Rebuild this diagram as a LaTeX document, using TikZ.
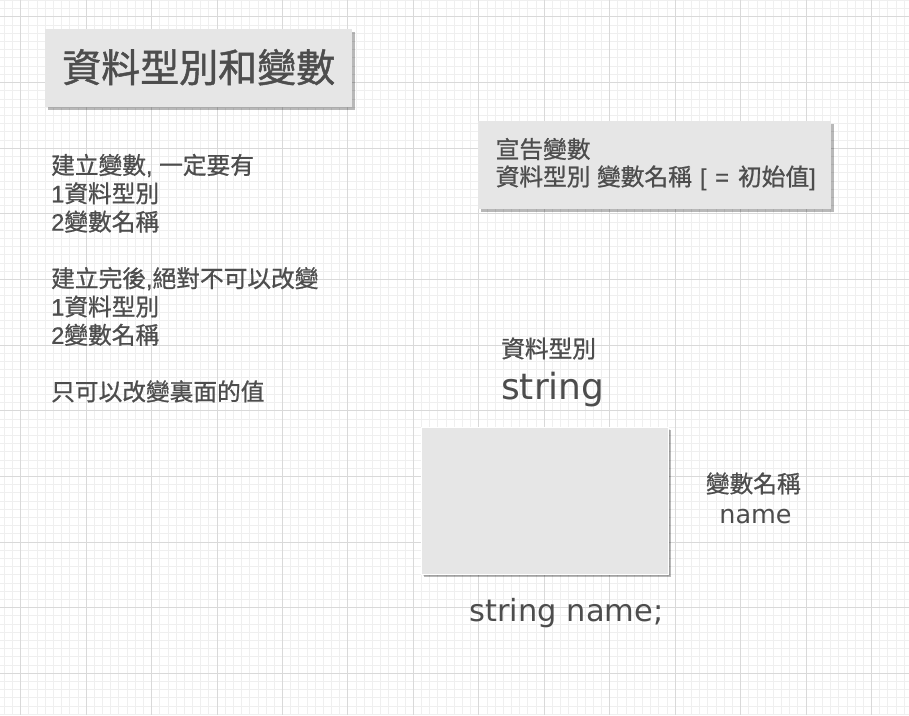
\documentclass[tikz,border=0pt]{standalone}
\usepackage{fontspec}
\usetikzlibrary{shadows}
\setmainfont{DejaVu Sans}
\newfontfamily\cjk[FakeBold=0.9]{Noto Sans CJK TC}
\newfontfamily\cjkt[FakeBold=1.2]{Noto Sans CJK TC}
\newfontfamily\lat[FakeBold=0.6]{Liberation Sans}
\definecolor{txtc}{HTML}{4D4D4D}
\definecolor{boxc}{HTML}{E6E6E6}
\definecolor{minorc}{HTML}{EFEFEF}
\definecolor{majorc}{HTML}{D9D9D9}
\tikzset{
  panel/.style={fill=boxc, draw=none, inner sep=0, anchor=north west,
    drop shadow={shadow xshift=2.5pt, shadow yshift=-2.5pt, fill=black, opacity=0.28}},
  txt/.style={text=txtc, inner sep=0, anchor=base west},
  body/.style={txt, font=\cjk\fontsize{23.7}{28}\selectfont},
}
\newcommand{\La}[1]{{\lat #1}}
\begin{document}
\begin{tikzpicture}[x=1pt,y=-1pt]
\useasboundingbox (0,0) rectangle (909,715);
\fill[white] (0,0) rectangle (909,715);
% grid
\foreach \i in {-8,...,112} \draw[minorc, line width=0.9pt] ({20.7+\i*8.181},0) -- ({20.7+\i*8.181},715);
\foreach \i in {-8,...,90} \draw[minorc, line width=0.9pt] (0,{16.9+\i*8.205}) -- (909,{16.9+\i*8.205});
\foreach \i in {-1,...,14} \draw[majorc, line width=1pt] ({20.7+\i*65.45},0) -- ({20.7+\i*65.45},715);
\foreach \i in {-1,...,11} \draw[majorc, line width=1pt] (0,{16.9+\i*65.64}) -- (909,{16.9+\i*65.64});
% boxes
\node[panel, minimum width=307, minimum height=78] (titlebox) at (45,29) {};
\node[panel, minimum width=353, minimum height=88] (declbox) at (478,121) {};
\node[panel, minimum width=247, minimum height=147, draw=white, line width=1pt,
  drop shadow={shadow xshift=1.5pt, shadow yshift=-1.5pt, fill=black, opacity=0.12}] (var) at (421,427) {};
% title
\node[txt, font=\cjkt\fontsize{39}{44}\selectfont] (title) at (62,82) {資料型別和變數};
% declaration
\node[body] (d1) at (495.5,158) {宣告變數};
\node[body] (d2) at (495.5,185.5) {資料型別\La{ }變數名稱\La{\hspace{1.5pt} [\hspace{2pt} =\hspace{2.5pt} }初始值\La{]}};
% left notes
\node[body] (l1) at (51,174) {建立變數\La{, }一定要有};
\node[body] (l2) at (51,202.3) {\La{1}資料型別};
\node[body] (l3) at (51,230.6) {\La{2}變數名稱};
\node[body] (l4) at (51,287.2) {建立完後\La{,}絕對不可以改變};
\node[body] (l5) at (51,315.5) {\La{1}資料型別};
\node[body] (l6) at (51,343.8) {\La{2}變數名稱};
\node[body] (l7) at (51,400.4) {只可以改變裏面的值};
% labels around the variable box
\node[body] (typelbl) at (501,357.5) {資料型別};
\node[txt, font=\fontsize{36}{40}\selectfont] (typename) at (501,399.5) {string};
\node[body, anchor=base] (namelbl) at (753.3,492.5) {變數名稱};
\node[txt, anchor=base, font=\fontsize{25.5}{30}\selectfont] (varname) at (755.5,523.5) {name};
\node[txt, font=\fontsize{30.5}{34}\selectfont] (stmt) at (469.3,621.7) {string name;};
\end{tikzpicture}
\end{document}
